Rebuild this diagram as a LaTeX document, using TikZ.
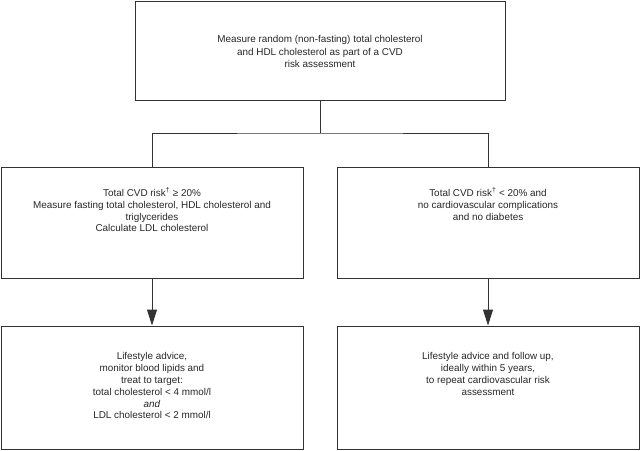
\documentclass[tikz,border=0pt]{standalone}
\usepackage{fontspec}
\setmainfont{Liberation Sans}
\usetikzlibrary{arrows.meta}
\definecolor{linegray}{HTML}{333333}
\begin{document}
\begin{tikzpicture}[x=1pt,y=-1pt,
  box/.style={draw=linegray, line width=0.9pt, rectangle, inner sep=0pt},
  txt/.style={align=center, font=\fontsize{9.9}{11.8}\selectfont, inner sep=0pt, text=black!85},
  conn/.style={draw=linegray, line width=0.9pt},
  arr/.style={conn, -{Triangle[length=16pt,width=10pt]}}]
\useasboundingbox (0,0) rectangle (640,450);
\node[box, minimum width=370pt, minimum height=99pt] (top) at (320,50.5) {};
\node[box, minimum width=302pt, minimum height=111pt] (ml) at (152,222.5) {};
\node[box, minimum width=302pt, minimum height=111pt] (mr) at (488,222.5) {};
\node[box, minimum width=302pt, minimum height=123pt] (bl) at (152,387.5) {};
\node[box, minimum width=302pt, minimum height=123pt] (br) at (488,387.5) {};
\node[txt, font=\fontsize{9.9}{12.4}\selectfont] (ttop) at ([yshift=-1pt]top.center) {Measure random (non-fasting) total cholesterol\\and HDL cholesterol as part of a CVD\\risk assessment};
\node[txt, anchor=north] (tml) at ([yshift=-21pt]ml.north) {Total CVD risk\textsuperscript{†} ≥ 20\%\\Measure fasting total cholesterol, HDL cholesterol and\\triglycerides\\Calculate LDL cholesterol};
\node[txt, anchor=north] (tmr) at ([yshift=-21pt]mr.north) {Total CVD risk\textsuperscript{†} < 20\% and\\no cardiovascular complications\\and no diabetes};
\node[txt, anchor=north] (tbl) at ([yshift=-27pt]bl.north) {Lifestyle advice,\\monitor blood lipids and\\treat to target:\\total cholesterol < 4 mmol/l\\\textit{and}\\LDL cholesterol < 2 mmol/l};
\node[txt, anchor=north] (tbr) at ([yshift=-27pt]br.north) {Lifestyle advice and follow up,\\ideally within 5 years,\\to repeat cardiovascular risk\\assessment};
\coordinate (split) at (320,133);
\draw[conn] (top.south) -- (split);
\draw[conn] (ml.north) |- (split) -| (mr.north);
\draw[arr] (ml.south) -- (bl.north);
\draw[arr] (mr.south) -- (br.north);
\end{tikzpicture}
\end{document}
